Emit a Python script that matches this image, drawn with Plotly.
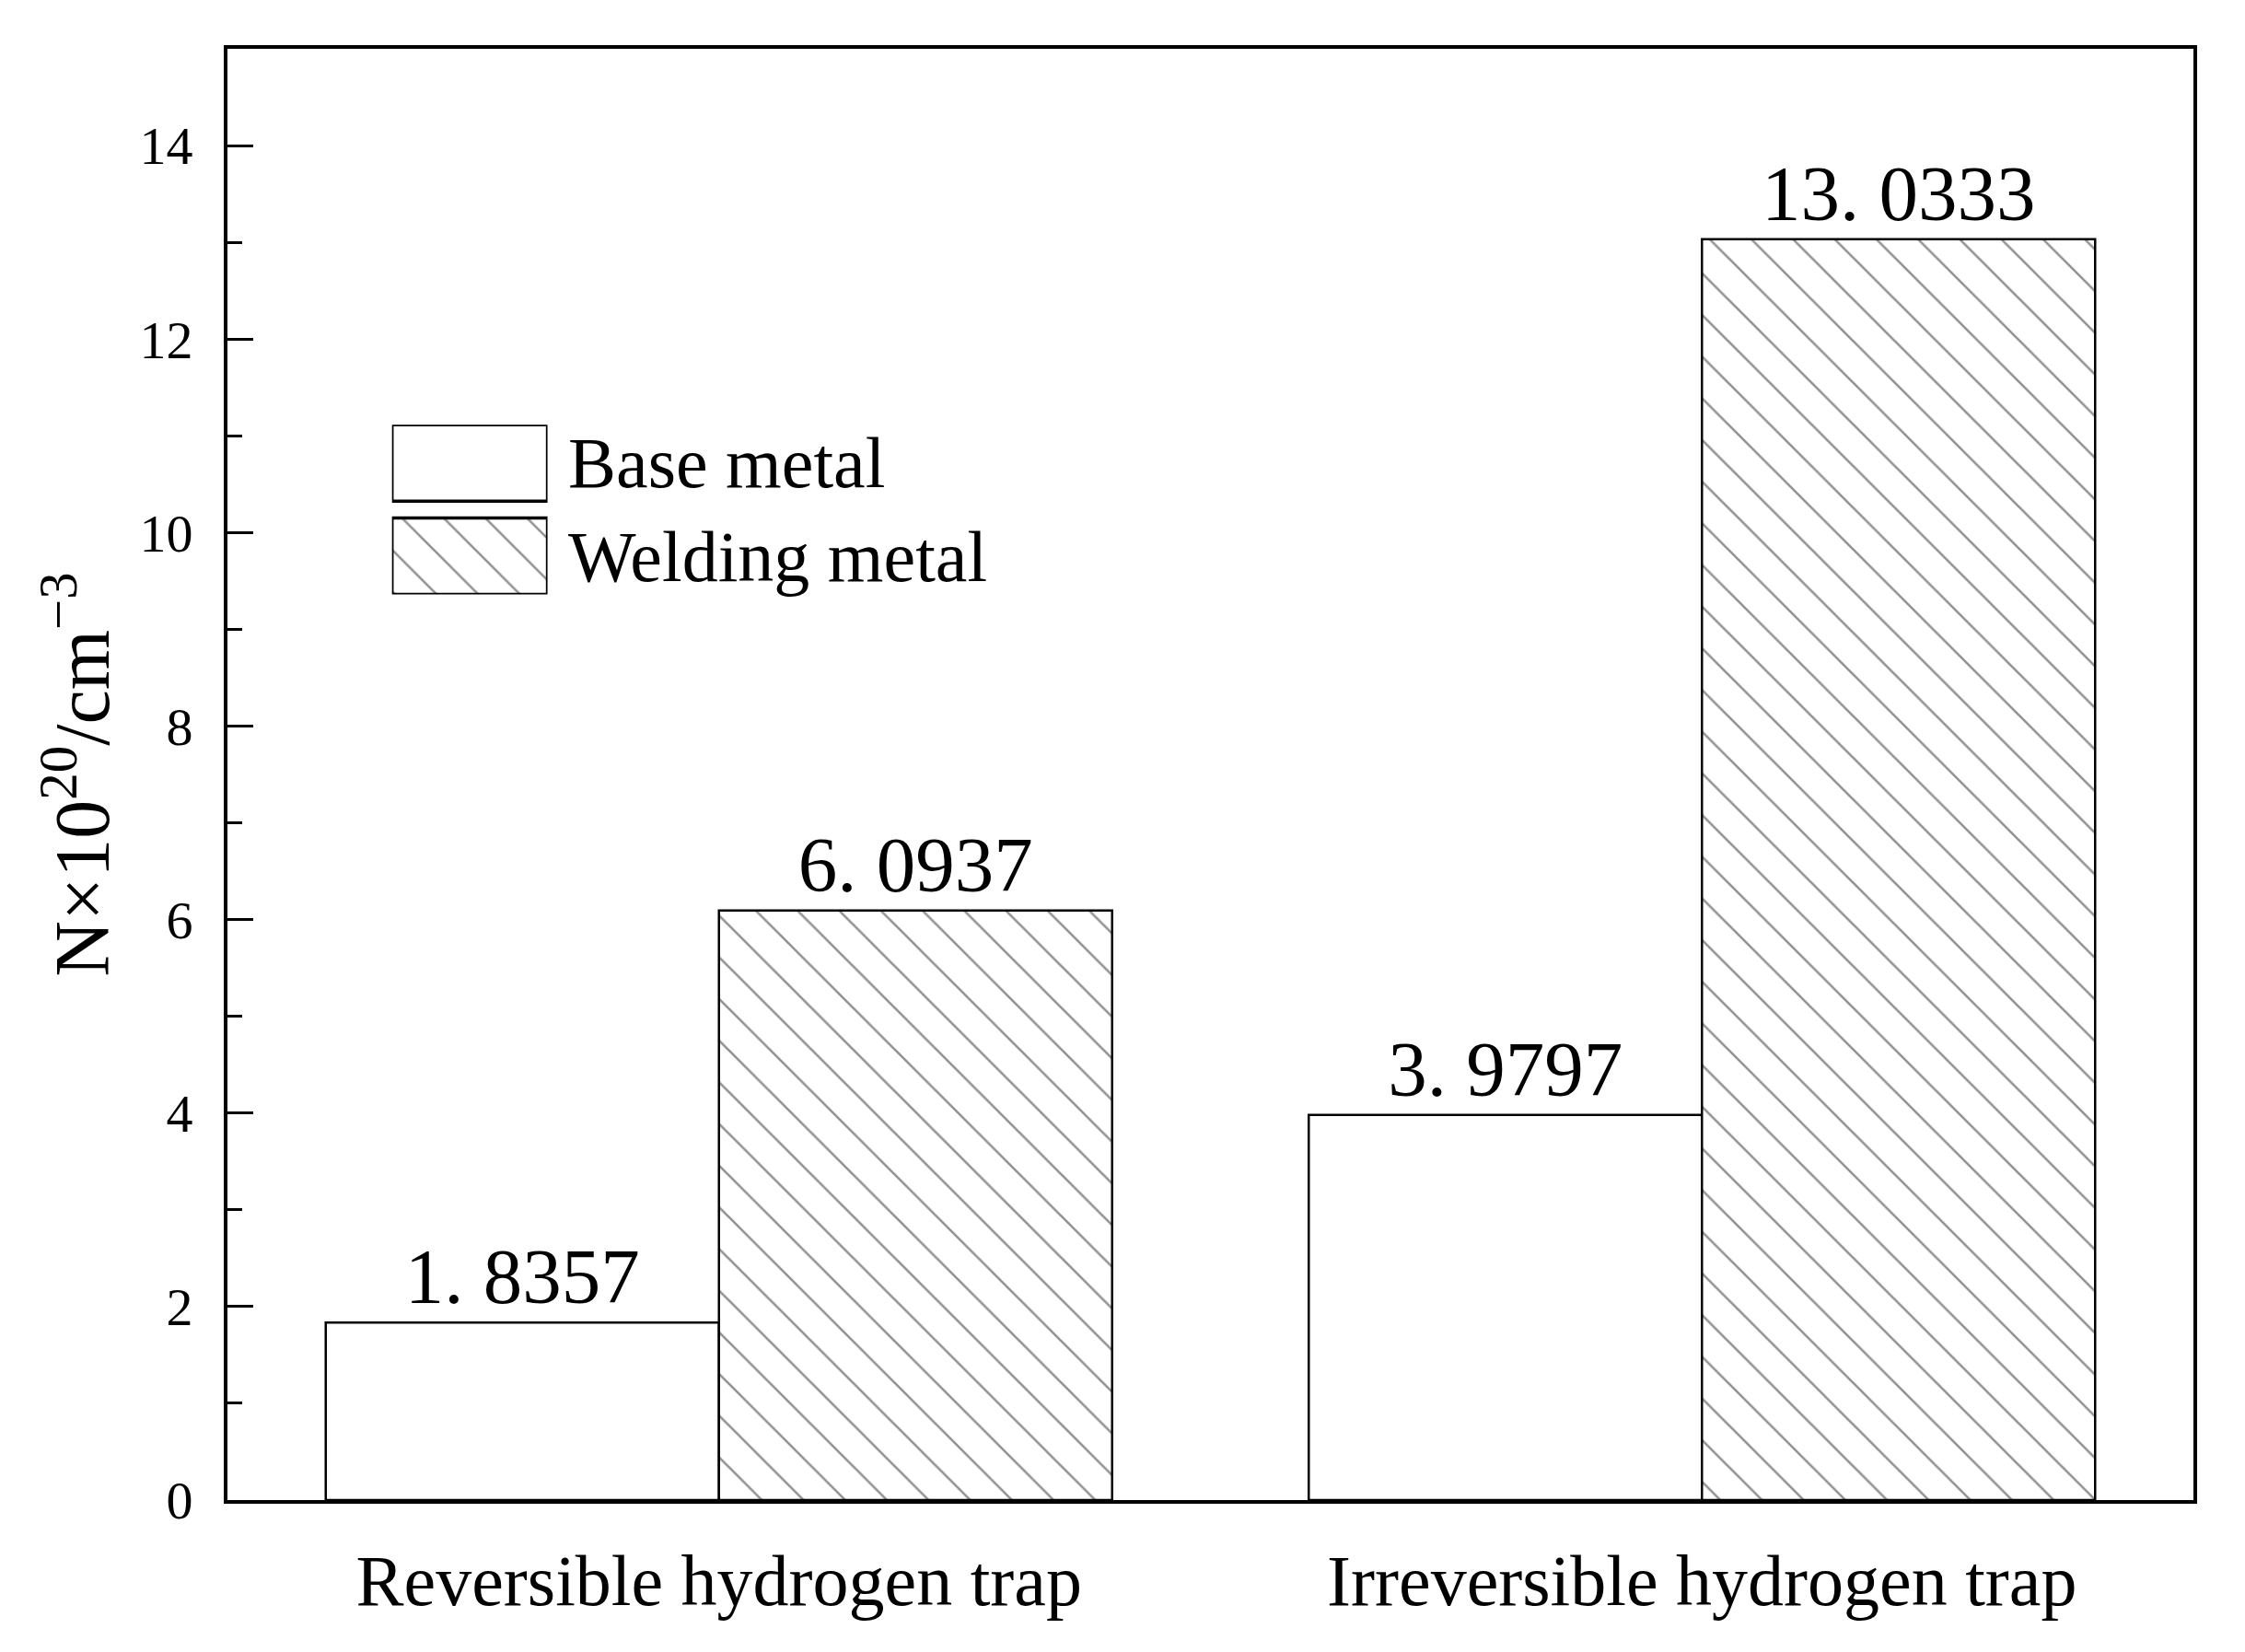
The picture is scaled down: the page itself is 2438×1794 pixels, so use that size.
import plotly.graph_objects as go

categories = ["Reversible hydrogen trap", "Irreversible hydrogen trap"]
series_names = ["Base metal", "Welding metal"]
base_metal = [1.8357, 3.9797]
welding_metal = [6.0937, 13.0333]
y_ticks = [0, 2, 4, 6, 8, 10, 12, 14]

FONT = "Liberation Serif"


def fmt(v):
    return f"{v:.4f}".replace(".", ". ")


HATCH = dict(shape="\\", size=32, solidity=0.08,
             fgcolor="#222222", bgcolor="white", fillmode="overlay")

fig = go.Figure()

fig.add_trace(go.Bar(
    name=series_names[0], x=categories, y=base_metal,
    text=[fmt(v) for v in base_metal], textposition="outside",
    textfont=dict(family=FONT, size=85, color="black"),
    marker=dict(color="white", line=dict(color="black", width=2.5)),
    cliponaxis=False, showlegend=False,
))
fig.add_trace(go.Bar(
    name=series_names[1], x=categories, y=welding_metal,
    text=[fmt(v) for v in welding_metal], textposition="outside",
    textfont=dict(family=FONT, size=85, color="black"),
    marker=dict(color="white", line=dict(color="black", width=2.5), pattern=HATCH),
    cliponaxis=False, showlegend=False,
))

# custom legend swatches (large boxes like the reference)
fig.add_trace(go.Bar(
    x=[1, 1], y=series_names, base=[0, 0], orientation="h",
    width=[0.82, 0.82],
    marker=dict(color="white", line=dict(color="black", width=3.5),
                pattern=dict(shape=["", "\\"], size=32, solidity=0.08,
                             fgcolor="#222222", bgcolor="white", fillmode="overlay")),
    xaxis="x2", yaxis="y2", showlegend=False, hoverinfo="skip",
))

for name in series_names:
    fig.add_annotation(
        x=1, y=name, xref="x2 domain", yref="y2",
        text=name, showarrow=False, xanchor="left", yanchor="middle",
        xshift=20, font=dict(family=FONT, size=78, color="black"),
    )

fig.update_layout(
    width=2438, height=1794,
    margin=dict(l=239, r=64, t=45, b=173),
    paper_bgcolor="white", plot_bgcolor="white",
    barmode="group", bargap=0.2, bargroupgap=0,
    font=dict(family=FONT, color="black"),
    xaxis=dict(
        range=[-0.5, 1.5], showline=True, linecolor="black", linewidth=4,
        mirror=True, ticks="", showgrid=False, zeroline=False,
        tickfont=dict(family=FONT, size=78, color="black"),
        ticklabelstandoff=16,
    ),
    yaxis=dict(
        range=[0, 15], showline=True, linecolor="black", linewidth=4,
        mirror=True, ticks="inside", ticklen=28, tickwidth=3, tickcolor="black",
        tickvals=y_ticks, ticktext=[str(t) for t in y_ticks],
        minor=dict(ticks="inside", ticklen=16, tickwidth=3, tickcolor="black",
                   tickvals=[1, 3, 5, 7, 9, 11, 13], showgrid=False),
        showgrid=False, zeroline=False,
        tickfont=dict(family=FONT, size=58, color="black"),
        ticklabelstandoff=22,
        title=dict(text="N×10<sup>20</sup>/cm<sup>−3</sup>",
                   font=dict(family=FONT, size=84, color="black"), standoff=6),
    ),
    xaxis2=dict(domain=[0.0837, 0.1628], range=[0, 1], anchor="y2",
                visible=False, fixedrange=True),
    yaxis2=dict(domain=[0.624, 0.741], range=[-0.41, 1.41], anchor="x2",
                visible=False, autorange=False,
                categoryorder="array", categoryarray=series_names[::-1]),
)

fig.write_html("out.html")
